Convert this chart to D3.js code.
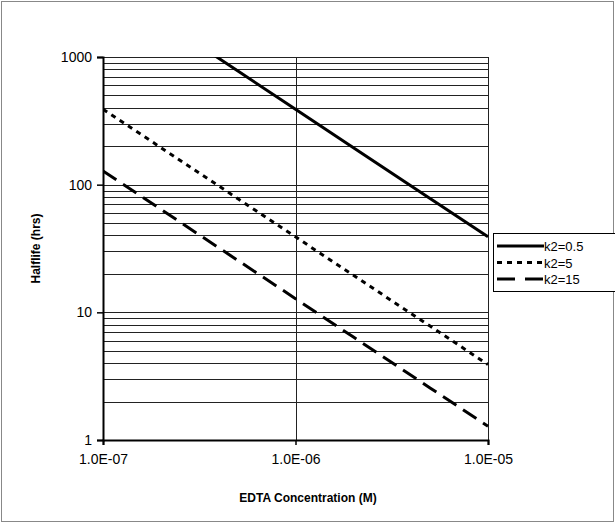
<!DOCTYPE html>
<html>
<head>
<meta charset="utf-8">
<script src="https://cdn.jsdelivr.net/npm/d3@7"></script>
<style>
  body { margin: 0; background: #fff; }
  svg { display: block; font-family: "Liberation Sans", Arial, sans-serif; }
</style>
</head>
<body>
<svg id="chart" width="615" height="523"></svg>
<script>
// EDTA concentration (M)
const concentrations = [1e-7, 2e-7, 5e-7, 1e-6, 2e-6, 5e-6, 1e-5];
// Halflife (hrs) per series
const seriesNames = ["k2=0.5", "k2=5", "k2=15"];
const halflifeK05 = [3900, 1950, 780, 390, 195, 78, 39];
const halflifeK5  = [390, 195, 78, 39, 19.5, 7.8, 3.9];
const halflifeK15 = [128, 64, 25.6, 12.8, 6.4, 2.56, 1.28];
const xTickValues = [1e-7, 1e-6, 1e-5];
const xTickLabels = ["1.0E-07", "1.0E-06", "1.0E-05"];
const yTickValues = [1, 10, 100, 1000];
const yTickLabels = ["1", "10", "100", "1000"];

const svg = d3.select("#chart");
const W = 615, H = 523;
const plot = { left: 103, right: 488, top: 57, bottom: 440 };

// chart-area border
svg.append("rect").attr("x", 1.5).attr("y", 1.5).attr("width", W - 3).attr("height", H - 3)
  .attr("fill", "none").attr("stroke", "#888").attr("stroke-width", 1);

const x = d3.scaleLog().domain([1e-7, 1e-5]).range([plot.left, plot.right]);
const y = d3.scaleLog().domain([1, 1000]).range([plot.bottom, plot.top]);

// horizontal gridlines (major + minor)
const yGrid = [];
for (let d = 1; d <= 100; d *= 10) for (let m = 1; m <= 9; m++) yGrid.push(d * m);
yGrid.push(1000);
svg.append("g").selectAll("line").data(yGrid.filter(v => v > 1)).join("line")
  .attr("x1", plot.left).attr("x2", plot.right)
  .attr("y1", d => Math.round(y(d)) + 0.5).attr("y2", d => Math.round(y(d)) + 0.5)
  .attr("stroke", "#222").attr("stroke-width", 1);

// vertical gridlines (major) incl. right border
svg.append("g").selectAll("line").data(xTickValues.slice(1)).join("line")
  .attr("x1", d => Math.round(x(d)) + 0.5).attr("x2", d => Math.round(x(d)) + 0.5)
  .attr("y1", plot.top).attr("y2", plot.bottom)
  .attr("stroke", "#222").attr("stroke-width", 1);

// axes
const xAxis = d3.axisBottom(x).tickValues(xTickValues)
  .tickFormat((d, i) => xTickLabels[i]).tickSize(5).tickPadding(9);
const yAxis = d3.axisLeft(y).tickValues(yTickValues)
  .tickFormat((d, i) => yTickLabels[i]).tickSize(6).tickPadding(5);

const gx = svg.append("g").attr("transform", `translate(0,${plot.bottom})`).call(xAxis);
const gy = svg.append("g").attr("transform", `translate(${plot.left},0)`).call(yAxis);
[gx, gy].forEach(g => {
  g.select(".domain").attr("stroke", "#000").attr("stroke-width", 2);
  g.selectAll(".tick line").attr("stroke", "#000").attr("stroke-width", 1.5);
  g.selectAll(".tick text").attr("font-size", 14).attr("fill", "#000")
    .attr("font-family", "'Liberation Sans', Arial, sans-serif");
});

// clip for series
svg.append("clipPath").attr("id", "clip").append("rect")
  .attr("x", plot.left).attr("y", plot.top)
  .attr("width", plot.right - plot.left + 2).attr("height", plot.bottom - plot.top);

const styles = [
  { dash: null, width: 3 },
  { dash: "5,5", width: 3 },
  { dash: "16,8", width: 3 }
];
const seriesValues = [halflifeK05, halflifeK5, halflifeK15];
const line = d3.line().x(d => x(d[0])).y(d => y(d[1]));
const gSeries = svg.append("g").attr("clip-path", "url(#clip)");
seriesValues.forEach((vals, i) => {
  gSeries.append("path")
    .attr("d", line(concentrations.map((c, j) => [c, vals[j]])))
    .attr("fill", "none").attr("stroke", "#000")
    .attr("stroke-width", styles[i].width)
    .attr("stroke-dasharray", styles[i].dash);
});

// axis titles
svg.append("text").attr("x", 308).attr("y", 502)
  .attr("text-anchor", "middle").attr("font-size", 12).attr("font-weight", "bold")
  .text("EDTA Concentration (M)");
svg.append("text").attr("transform", `translate(40,${(plot.top + plot.bottom) / 2}) rotate(-90)`)
  .attr("text-anchor", "middle").attr("font-size", 12).attr("font-weight", "bold")
  .text("Halflife (hrs)");

// legend
const leg = { x: 493, y: 233, w: 125, h: 58 };
svg.append("rect").attr("x", leg.x + 0.5).attr("y", leg.y + 0.5)
  .attr("width", leg.w).attr("height", leg.h)
  .attr("fill", "#fff").attr("stroke", "#000").attr("stroke-width", 1);
seriesNames.forEach((name, i) => {
  const yy = leg.y + 13 + i * 16.5;
  svg.append("line").attr("x1", leg.x + 4).attr("x2", leg.x + 51)
    .attr("y1", yy).attr("y2", yy)
    .attr("stroke", "#000").attr("stroke-width", styles[i].width)
    .attr("stroke-dasharray", i === 1 ? "5,5" : (i === 2 ? "18,10" : null));
  svg.append("text").attr("x", leg.x + 51).attr("y", yy + 5)
    .attr("font-size", 13).text(name);
});
</script>
</body>
</html>
